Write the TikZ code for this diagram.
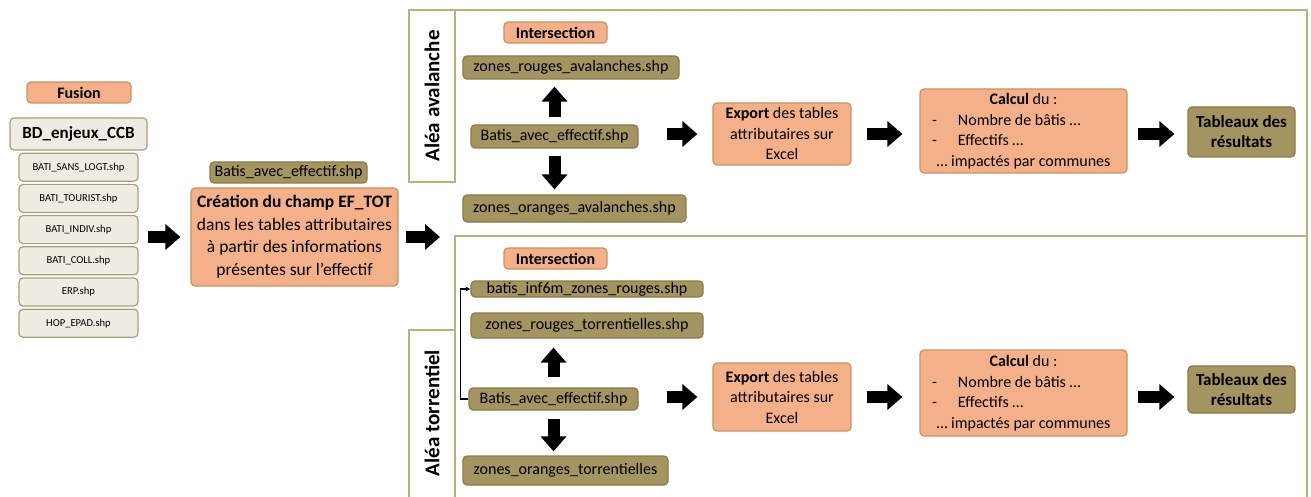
\documentclass[tikz,border=0pt]{standalone}
\usepackage{fontspec}
\setmainfont{Carlito}
\usepackage{tikz}
\usetikzlibrary{arrows.meta,positioning,calc}

\definecolor{saumon}{HTML}{F4B088}
\definecolor{saumonbord}{HTML}{C99262}
\definecolor{kaki}{HTML}{A49460}
\definecolor{kakibord}{HTML}{8A7B47}
\definecolor{gris}{HTML}{EEECE3}
\definecolor{grisbord}{HTML}{A89E78}
\definecolor{cadre}{HTML}{BFAE78}

\newcommand{\fs}[2]{\fontsize{#1}{#2}\selectfont}
\newcommand{\puce}[1]{\makebox[183pt][l]{\makebox[26pt][l]{-}#1}}

\begin{document}
\begin{tikzpicture}[x=1pt,y=-1pt,
  boite/.style={rounded corners=4pt,line width=1.2pt,inner sep=0pt,align=center},
  orange/.style={boite,fill=saumon,draw=saumonbord},
  olive/.style={boite,fill=kaki,draw=kakibord,font=\fs{16}{19}},
  grise/.style={boite,fill=gris,draw=grisbord},
  liste/.style={grise,minimum width=119pt,minimum height=28pt,font=\fs{10.6}{12}},
  titre/.style={orange,minimum width=103pt,minimum height=21pt,font=\fs{16}{19}\bfseries},
  exporte/.style={orange,minimum width=138pt,font=\fs{16}{20.5}},
  calcul/.style={orange,minimum width=207pt,font=\fs{16}{20.5}},
  resultat/.style={olive,minimum width=107pt,font=\fs{17}{20}\bfseries},
  fleche/.style={-{Triangle[length=15pt,width=25pt]},line width=12pt},
  tab/.style={draw=cadre,line width=2pt,fill=white}]
\useasboundingbox (0,0) rectangle (1311,497);

% colonne de gauche
\node [titre,minimum width=104pt] (fus) at (79,92.5) {Fusion};
\node [grise,minimum width=137pt,minimum height=32pt,font=\fs{17}{20}\bfseries] (bd) at (78.5,134) {BD\_enjeux\_CCB};
\node [liste,below=2pt of bd] (b1) {BATI\_SANS\_LOGT.shp};
\node [liste,below=2pt of b1] (b2) {BATI\_TOURIST.shp};
\node [liste,below=2pt of b2] (b3) {BATI\_INDIV.shp};
\node [liste,below=2pt of b3] (b4) {BATI\_COLL.shp};
\node [liste,below=2pt of b4] (b5) {ERP.shp};
\node [liste,below=2pt of b5] (b6) {HOP\_EPAD.shp};

\node [olive,minimum width=157pt,minimum height=21pt] (shp) at (288.5,172.5) {Batis\_avec\_effectif.shp};
\node [orange,minimum width=207pt,minimum height=98pt,font=\fs{17.5}{22.5}] (cre) at (294.5,237)
  {\textbf{Création du champ EF\_TOT}\\dans les tables attributaires\\à partir des informations\\présentes sur l’effectif};
\coordinate (split) at (455,237);

\draw[fleche,shorten <=9pt,shorten >=10pt] (b4.east|-cre.west) -- (cre.west);
\draw[fleche,shorten <=7pt,shorten >=15pt] (cre.east) -- (split);

% cadres
\draw[tab] (409,10) -- (1307,10) -- (1307,236) -- (455,236);
\draw[tab] (455,497) -- (455,236) -- (1307,236) -- (1307,497);
\draw[tab] (409,10) rectangle (455,182);
\draw[tab] (409,497) -- (409,330) -- (455,330) -- (455,497);
\node [rotate=90,font=\fs{21}{24}\bfseries] (aval) at (432,96) {Aléa avalanche};
\node [rotate=90,font=\fs{21}{24}\bfseries] (torr) at (432,413) {Aléa torrentiel};

% alea avalanche
\node [titre] (intA) at (555.5,32.5) {Intersection};
\node [olive,minimum width=216pt,minimum height=23pt] (rougeA) at (571,67.5) {zones\_rouges\_avalanches.shp};
\node [olive,minimum width=167pt,minimum height=23pt] (batisA) at (554.5,136.5) {Batis\_avec\_effectif.shp};
\node [olive,minimum width=223pt,minimum height=27pt] (orangeA) at (574.5,208.5) {zones\_oranges\_avalanches.shp};
\node [exporte,minimum height=62pt] (expA) at (782,134)
  {\textbf{Export} des tables\\attributaires sur\\Excel};
\node [calcul,minimum height=84pt] (calA) at (1023.5,131)
  {\textbf{Calcul} du :\\\puce{Nombre de bâtis …}\\\puce{Effectifs …}\\… impactés par communes};
\node [resultat,minimum height=50pt] (tabA) at (1241.5,132) {Tableaux des\\résultats};

\draw[fleche,shorten <=7pt,shorten >=7pt] (batisA.north) -- (batisA.north|-rougeA.south);
\draw[fleche,shorten <=7pt,shorten >=5pt] (batisA.south) -- (batisA.south|-orangeA.north);
\draw[fleche,shorten <=28pt,shorten >=15pt] (batisA.east|-expA.west) -- (expA.west);
\draw[fleche,shorten <=15pt,shorten >=17pt] (expA.east) -- (calA.west|-expA.east);
\draw[fleche,shorten <=10pt,shorten >=13pt] (calA.east|-expA.east) -- (tabA.west|-expA.east);

% alea torrentiel
\node [titre] (intB) at (555.5,258.5) {Intersection};
\node [olive,minimum width=232pt,minimum height=16pt] (infB) at (587,289) {batis\_inf6m\_zones\_rouges.shp};
\node [olive,minimum width=232pt,minimum height=25pt] (rougeB) at (587,325.5) {zones\_rouges\_torrentielles.shp};
\node [olive,minimum width=169pt,minimum height=22pt] (batisB) at (553.5,399) {Batis\_avec\_effectif.shp};
\node [olive,minimum width=205pt,minimum height=29pt] (orangeB) at (565.5,470.5) {zones\_oranges\_torrentielles};
\node [exporte,minimum height=68pt] (expB) at (782,397)
  {\textbf{Export} des tables\\attributaires sur\\Excel};
\node [calcul,minimum height=86pt] (calB) at (1023.5,393)
  {\textbf{Calcul} du :\\\puce{Nombre de bâtis …}\\\puce{Effectifs …}\\… impactés par communes};
\node [resultat,minimum height=47pt] (tabB) at (1241.5,389.5) {Tableaux des\\résultats};

\draw[fleche,shorten <=10pt,shorten >=9pt] (batisB.north) -- (batisB.north|-rougeB.south);
\draw[fleche,shorten <=8pt,shorten >=4pt] (batisB.south) -- (batisB.south|-orangeB.north);
\draw[fleche,shorten <=28pt,shorten >=15pt] (batisB.east|-expB.west) -- (expB.west);
\draw[fleche,shorten <=15pt,shorten >=17pt] (expB.east) -- (calB.west|-expB.east);
\draw[fleche,shorten <=10pt,shorten >=13pt] (calB.east|-expB.east) -- (tabB.west|-expB.east);
\draw[line width=1.6pt,-{Stealth[length=5pt,width=5pt]}] (batisB.west) -- ++(-8,0) |- (infB.west);
\end{tikzpicture}
\end{document}
